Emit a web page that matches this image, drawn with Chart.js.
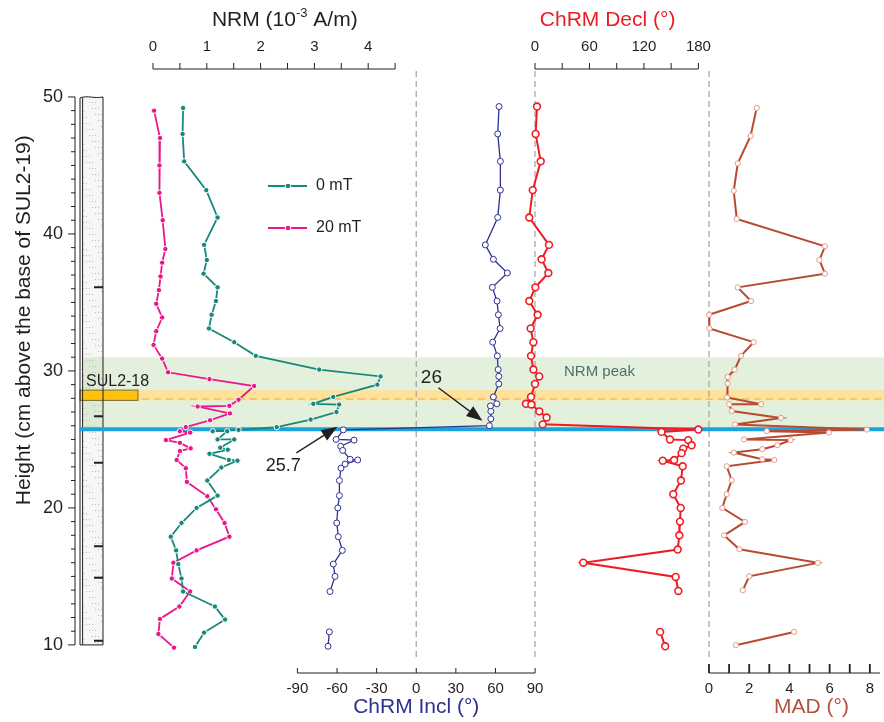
<!DOCTYPE html>
<html>
<head>
<meta charset="utf-8">
<style>
  body { margin: 0; background: #fff; }
  #wrap { position: relative; width: 884px; height: 722px; }
</style>
</head>
<body>
<div id="wrap"><canvas id="chart"></canvas></div>

<script src="https://cdn.jsdelivr.net/npm/chart.js@4.4.1/dist/chart.umd.min.js"></script>
<script>
// NRM, 0 mT and 20 mT (10^-3 A/m) against height (cm)
const nrm0H = [49.2, 47.3, 45.3, 43.2, 41.2, 39.2, 38.1, 37.1, 36.1, 35.1, 34.1, 33.1, 32.1, 31.1, 30.1, 29.6, 29.0, 28.1, 27.6, 27.55, 27.0, 26.45, 25.9, 25.7, 25.6, 25.6, 25.0, 25.0, 24.4, 24.25, 23.95, 23.5, 23.45, 22.95, 22.0, 20.9, 20.0, 18.9, 17.9, 16.9, 15.9, 14.85, 13.9, 12.8, 11.85, 10.9, 9.85]
const nrm0 = [0.56, 0.55, 0.58, 0.99, 1.20, 0.95, 1.00, 0.94, 1.20, 1.17, 1.09, 1.04, 1.51, 1.91, 3.09, 4.23, 4.17, 3.35, 2.98, 3.46, 3.41, 2.93, 2.30, 1.59, 1.11, 1.38, 1.20, 1.51, 1.25, 1.39, 1.05, 1.41, 1.57, 1.27, 1.01, 1.20, 0.81, 0.53, 0.33, 0.43, 0.47, 0.53, 0.56, 1.15, 1.34, 0.95, 0.78]

const nrm20H = [49.0, 47.0, 45.0, 43.0, 41.0, 38.9, 37.9, 36.9, 35.9, 34.9, 33.9, 32.9, 31.9, 30.9, 29.9, 29.4, 28.9, 27.9, 27.45, 27.4, 26.9, 26.4, 25.9, 25.6, 25.5, 24.95, 24.75, 24.35, 24.15, 23.5, 22.9, 21.9, 20.85, 19.9, 18.9, 17.9, 16.9, 16.0, 14.85, 13.9, 12.8, 11.9, 10.8, 9.8]
const nrm20 = [0.02, 0.13, 0.12, 0.12, 0.18, 0.23, 0.17, 0.14, 0.11, 0.06, 0.17, 0.06, 0.01, 0.17, 0.28, 1.05, 1.88, 1.59, 1.42, 0.83, 1.43, 1.06, 0.61, 0.50, 0.69, 0.24, 0.50, 0.70, 0.50, 0.44, 0.61, 0.63, 1.01, 1.17, 1.33, 1.42, 0.81, 0.38, 0.35, 0.69, 0.49, 0.13, 0.10, 0.39]

// ChRM inclination (deg), null = no sample (line break)
const inclH = [49.3, 47.3, 45.3, 43.2, 41.2, 39.2, 38.15, 37.15, 36.1, 35.1, 34.1, 33.1, 32.1, 31.1, 30.1, 29.6, 29.05, 28.1, 27.6, 27.45, 27.05, 26.5, 26.0, 25.7, 25.0, 24.95, 24.5, 24.2, 23.55, 23.5, 23.2, 22.9, 22.0, 20.9, 20.0, 18.9, 17.9, 16.9, 15.9, 15.0, 13.9, 12.4, 10.95, 9.9]
const incl = [62.7, 61.7, 63.7, 63.7, 61.7, 52.3, 58.4, 69.0, 57.6, 61.2, 62.2, 63.5, 57.9, 61.4, 62.0, 62.5, 62.5, 58.4, 61.0, 56.2, 56.5, 56.5, 55.4, -55.2, -60.7, -47.1, -57.2, -55.7, -50.1, -44.3, -53.9, -57.0, -58.2, -58.2, -59.4, -60.2, -59.0, -56.0, -62.8, -61.5, -65.3, null, -65.8, -66.8]

// ChRM declination (deg)
const declH = [49.3, 47.3, 45.3, 43.2, 41.2, 39.2, 38.15, 37.15, 36.1, 35.1, 34.1, 33.1, 32.1, 31.1, 30.1, 29.6, 29.05, 28.1, 27.6, 27.55, 27.05, 26.6, 26.1, 25.72, 25.55, 25.0, 24.95, 24.57, 24.33, 24.0, 23.5, 23.45, 23.04, 22.0, 21.0, 20.0, 19.0, 18.0, 16.96, 16.0, 14.96, 13.94, 12.4, 10.95, 9.9]
const decl = [2.2, 0.7, 6.3, -2.5, -6.3, 15.4, 7.3, 14.7, 0.4, -6.3, 2.9, -4.8, -1.8, -4.4, -1.8, 4.7, 0.0, -4.4, -10.0, -4.0, 4.7, 12.8, 8.5, 179.9, 139.4, 148.7, 168.8, 172.6, 163.3, 161.5, 153.3, 140.7, 162.7, 160.8, 152.3, 160.5, 159.7, 159.0, 157.2, 53.2, 155.0, 157.9, null, 137.9, 143.4]

// MAD (deg)
const madH = [49.2, 47.15, 45.15, 43.15, 41.1, 39.1, 38.1, 37.1, 36.1, 35.1, 34.1, 33.1, 32.1, 31.1, 30.1, 29.56, 29.08, 28.06, 27.57, 27.57, 27.07, 26.57, 26.09, 25.72, 25.6, 25.5, 25.0, 24.95, 24.58, 24.29, 24.04, 23.56, 23.5, 23.04, 22.02, 21.0, 20.0, 18.98, 18.0, 16.98, 15.99, 15.01, 13.99, 12.4, 10.95, 9.98]
const mad = [2.37, 2.07, 1.43, 1.23, 1.38, 5.77, 5.49, 5.77, 1.43, 2.09, 0.0, 0.02, 2.22, 1.59, 1.28, 0.93, 0.93, 0.90, 2.59, 1.00, 1.13, 3.58, 1.29, 7.85, 2.87, 5.97, 1.74, 4.06, 3.40, 2.65, 1.23, 2.65, 3.25, 0.88, 1.13, 0.88, 0.66, 1.79, 0.75, 1.51, 5.41, 2.00, 1.68, null, 4.23, 1.33]

// levels marked on the log, bands and labels
const colMarks = [36.1, 26.7, 23.3, 17.2, 14.9, 10.3]
const peakBand = [25.75, 31.0]
const sampleBand = [27.85, 28.6]
const sampleLine = 27.95
const boundary = 25.75
const yTicks = [10, 20, 30, 40, 50]
const nrmTicks = [0, 1, 2, 3, 4]
const declTicks = [0, 60, 120, 180]
const inclTicks = [-90, -60, -30, 0, 30, 60, 90]
const madTicks = [0, 2, 4, 6, 8]

const FONT = "'Liberation Sans', Arial, sans-serif"
const INK = '#231f20'
const TEAL = '#17897b', PINK = '#ea168b', NAVY = '#2e3192', RED = '#ed1c24', MADC = '#b84a30'
const TOP_H = 69, BOT_H = 49

function pts(hs, vs) {
  return hs.map((h, i) => ({ x: vs[i], y: h }))
}

function fixH(h) {
  return s => { s.height = h; s.paddingLeft = 0; s.paddingRight = 0 }
}

// invisible spacer scales share the row with the real axes
function gap(pos, w, weight) {
  return { type: 'linear', axis: 'x', position: pos, stack: pos, stackWeight: w, weight, display: false, min: 0, max: 1,
    afterFit: fixH(pos === 'top' ? TOP_H : BOT_H) }
}

function axis(pos, w, weight, min, max, step, shown, fsize, pad) {
  return {
    type: 'linear', axis: 'x', position: pos, stack: pos, stackWeight: w, weight,
    min, max,
    grid: { display: false, drawTicks: false }, border: { display: false },
    ticks: {
      stepSize: step, autoSkip: false, includeBounds: false, maxRotation: 0, minRotation: 0, maxTicksLimit: 100,
      padding: pad, color: INK, font: { family: FONT, size: fsize },
      callback: v => shown.includes(v) ? String(v) : ''
    },
    afterFit: fixH(pos === 'top' ? TOP_H : BOT_H)
  }
}

function text(ctx, s, x, y, size, color, align) {
  ctx.font = size + 'px ' + FONT
  ctx.fillStyle = color
  ctx.textAlign = align || 'center'
  ctx.textBaseline = 'middle'
  ctx.fillText(s, x, y)
}

function arrow(ctx, x0, y0, x1, y1) {
  const a = Math.atan2(y1 - y0, x1 - x0), L = 16, W = 6
  const bx = x1 - L * Math.cos(a), by = y1 - L * Math.sin(a)
  ctx.strokeStyle = INK
  ctx.fillStyle = INK
  ctx.lineWidth = 1.3
  ctx.beginPath(); ctx.moveTo(x0, y0); ctx.lineTo(bx, by); ctx.stroke()
  ctx.beginPath()
  ctx.moveTo(x1, y1)
  ctx.lineTo(bx - W * Math.sin(a), by + W * Math.cos(a))
  ctx.lineTo(bx + W * Math.sin(a), by - W * Math.cos(a))
  ctx.closePath(); ctx.fill()
}

const decor = {
  id: 'decor',
  beforeDatasetsDraw(chart) {
    const { ctx, chartArea: a, scales: s } = chart
    const Y = v => s.y.getPixelForValue(v)
    const colL = a.left + 3, colR = a.left + 26, barR = a.left + 61
    ctx.save()

    // log column
    ctx.fillStyle = '#f6f6f6'
    ctx.fillRect(colL, Y(50), colR - colL, Y(10) - Y(50))
    ctx.fillStyle = '#a9a9a9'
    for (let yy = Math.round(Y(50)) + 2; yy < Y(10); yy += 3) {
      for (let xx = colL + 3; xx < colR - 1; xx += 3) {
        if ((xx * 7 + yy * 13) % 11 < 3) ctx.fillRect(xx, yy, 0.9, 0.9)
      }
    }

    // NRM peak band
    ctx.fillStyle = 'rgba(170,210,150,0.33)'
    ctx.fillRect(colL + 2, Y(peakBand[1]), a.right - colL - 2, Y(peakBand[0]) - Y(peakBand[1]))
    // sample SUL2-18
    ctx.fillStyle = '#fde29c'
    ctx.fillRect(barR, Y(sampleBand[1]), a.right - barR, Y(sampleBand[0]) - Y(sampleBand[1]))
    ctx.fillStyle = '#ffc20e'
    ctx.fillRect(colL, Y(sampleBand[1]), barR - colL, Y(sampleBand[0]) - Y(sampleBand[1]))
    ctx.strokeStyle = '#7d6a2e'
    ctx.lineWidth = 1
    ctx.strokeRect(colL, Y(sampleBand[1]), barR - colL, Y(sampleBand[0]) - Y(sampleBand[1]))
    ctx.strokeStyle = '#f2a444'
    ctx.lineWidth = 1.2
    ctx.setLineDash([7, 5])
    ctx.beginPath(); ctx.moveTo(barR + 4, Y(sampleLine)); ctx.lineTo(a.right, Y(sampleLine)); ctx.stroke()

    // column outline and marks
    ctx.setLineDash([])
    ctx.strokeStyle = INK
    ctx.lineWidth = 1
    ctx.beginPath()
    ctx.moveTo(colL, Y(10)); ctx.lineTo(colL, Y(50) + 1)
    ctx.bezierCurveTo(colL + 8, Y(50) - 2, colL + 14, Y(50) + 2, colR, Y(50))
    ctx.lineTo(colR, Y(10)); ctx.closePath()
    ctx.moveTo(colL + 2.6, Y(10)); ctx.lineTo(colL + 2.6, Y(50) + 1)
    ctx.stroke()
    ctx.lineWidth = 2
    ctx.beginPath()
    colMarks.forEach(h => { ctx.moveTo(colR - 9, Y(h)); ctx.lineTo(colR, Y(h)) })
    ctx.stroke()
    text(ctx, 'SUL2-18', colL + 6, Y(29.25), 16, INK, 'left')

    // boundary 25.7
    ctx.strokeStyle = '#1aa3dd'
    ctx.lineWidth = 4
    ctx.beginPath(); ctx.moveTo(colL, Y(boundary)); ctx.lineTo(a.right, Y(boundary)); ctx.stroke()

    // zero lines
    ctx.strokeStyle = '#a3a3a3'
    ctx.lineWidth = 1.2
    ctx.setLineDash([6, 4])
    ;[s.xIncl.getPixelForValue(0), s.xDecl.getPixelForValue(0), s.xMAD.getPixelForValue(0)].forEach(x => {
      ctx.beginPath(); ctx.moveTo(x, a.top + 2); ctx.lineTo(x, a.bottom - 13); ctx.stroke()
    })
    ctx.setLineDash([])

    text(ctx, 'NRM peak', s.xDecl.getPixelForValue(71), Y(29.95), 15, '#4d7070')
    ctx.restore()
  },

  afterDraw(chart) {
    const { ctx, chartArea: a, scales: s } = chart
    const Y = v => s.y.getPixelForValue(v)
    ctx.save()
    ctx.strokeStyle = INK

    // y axis
    const yx = a.left - 2
    ctx.lineWidth = 1
    ctx.beginPath()
    ctx.moveTo(yx, Y(10)); ctx.lineTo(yx, Y(50))
    for (let h = 10; h <= 50; h++) {
      ctx.moveTo(yx, Y(h)); ctx.lineTo(yx - (h % 10 === 0 ? 7 : 4), Y(h))
    }
    ctx.stroke()

    // x axes
    function xAxis(sc, y, from, to, dir, len, lw) {
      ctx.lineWidth = 1
      ctx.beginPath()
      ctx.moveTo(sc.getPixelForValue(from), y); ctx.lineTo(sc.getPixelForValue(to), y)
      ctx.stroke()
      ctx.lineWidth = lw
      ctx.beginPath()
      sc.ticks.forEach(t => {
        const x = sc.getPixelForValue(t.value)
        ctx.moveTo(x, y); ctx.lineTo(x, y + dir * len)
      })
      ctx.stroke()
    }
    xAxis(s.xNRM, a.top, 0, 4.5, -1, 6, 1)
    xAxis(s.xDecl, a.top, 0, 180, -1, 6, 1)
    xAxis(s.xIncl, a.bottom, -90, 90, -1, 5, 1)
    xAxis(s.xMAD, a.bottom, 0, 8.5, -1, 9, 1.8)

    // axis titles
    const tx = s.xNRM.getPixelForValue(2.45), ty = 20
    ctx.font = '21px ' + FONT
    const p1 = 'NRM (10', p3 = ' A/m)'
    const w1 = ctx.measureText(p1).width, w3 = ctx.measureText(p3).width
    ctx.font = '13px ' + FONT
    const w2 = ctx.measureText('-3').width
    let x0 = tx - (w1 + w2 + w3) / 2
    text(ctx, p1, x0, ty, 21, INK, 'left')
    text(ctx, '-3', x0 + w1, ty - 7, 13, INK, 'left')
    text(ctx, p3, x0 + w1 + w2, ty, 21, INK, 'left')
    text(ctx, 'ChRM Decl (°)', s.xDecl.getPixelForValue(80), ty, 21, RED)
    text(ctx, 'ChRM Incl (°)', s.xIncl.getPixelForValue(0), 707, 21, NAVY)
    text(ctx, 'MAD (°)', s.xMAD.getPixelForValue(5.1), 707, 21, '#b5533c')
    ctx.save()
    ctx.translate(24, Y(33.7))
    ctx.rotate(-Math.PI / 2)
    text(ctx, 'Height (cm above the base of SUL2-19)', 0, 0, 21, INK)
    ctx.restore()

    // legend for the NRM curves
    ;[0, 1].forEach(i => {
      const ds = chart.data.datasets[i]
      const ly = 186 + i * 42
      ctx.strokeStyle = ds.borderColor
      ctx.lineWidth = 2
      ctx.beginPath(); ctx.moveTo(268, ly); ctx.lineTo(307, ly); ctx.stroke()
      ctx.fillStyle = ds.borderColor
      ctx.strokeStyle = '#fff'
      ctx.lineWidth = 1
      ctx.beginPath(); ctx.arc(288, ly, 2.8, 0, Math.PI * 2); ctx.fill(); ctx.stroke()
      text(ctx, ds.label, 316, ly, 16, INK, 'left')
    })

    // arrows to the reversal
    const p26 = { x: s.xIncl.getPixelForValue(55.4), y: Y(26.0) }
    text(ctx, '26', p26.x - 58, p26.y - 48, 19, INK)
    arrow(ctx, p26.x - 51, p26.y - 38, p26.x - 7, p26.y - 5)
    const p257 = { x: s.xIncl.getPixelForValue(-55.2), y: Y(25.7) }
    text(ctx, '25.7', p257.x - 60, p257.y + 36, 18, INK)
    arrow(ctx, p257.x - 47, p257.y + 23, p257.x - 6, p257.y - 3)
    ctx.restore()
  }
}

const ctx = document.getElementById('chart').getContext('2d')
new Chart(ctx, {
  type: 'scatter',
  data: {
    datasets: [
      { label: '0 mT', xAxisID: 'xNRM', data: pts(nrm0H, nrm0), borderColor: TEAL, borderWidth: 1.8,
        pointBackgroundColor: TEAL, pointBorderColor: '#fff', pointBorderWidth: 1, pointRadius: 2.7 },
      { label: '20 mT', xAxisID: 'xNRM', data: pts(nrm20H, nrm20), borderColor: PINK, borderWidth: 1.8,
        pointBackgroundColor: PINK, pointBorderColor: '#fff', pointBorderWidth: 1, pointRadius: 2.7 },
      { label: 'ChRM Incl', xAxisID: 'xIncl', data: pts(inclH, incl), borderColor: NAVY, borderWidth: 1.3,
        pointBackgroundColor: '#fff', pointBorderColor: NAVY, pointBorderWidth: 1, pointRadius: 3 },
      { label: 'ChRM Decl', xAxisID: 'xDecl', data: pts(declH, decl), borderColor: RED, borderWidth: 2,
        pointBackgroundColor: '#fff', pointBorderColor: RED, pointBorderWidth: 1.6, pointRadius: 3.4 },
      { label: 'MAD', xAxisID: 'xMAD', data: pts(madH, mad), borderColor: MADC, borderWidth: 2,
        pointBackgroundColor: '#fff', pointBorderColor: '#e49a8a', pointBorderWidth: 1, pointRadius: 2.6 }
    ].map(d => Object.assign(d, { yAxisID: 'y', showLine: true, spanGaps: false, tension: 0, clip: false }))
  },
  options: {
    responsive: true,
    maintainAspectRatio: false,
    animation: false,
    layout: { padding: 0, autoPadding: false },
    plugins: { legend: { display: false }, tooltip: { enabled: false } },
    scales: {
      y: {
        type: 'linear', position: 'left', min: 7.95, max: 52.04,
        grid: { display: false, drawTicks: false }, border: { display: false },
        ticks: {
          stepSize: 1, autoSkip: false, includeBounds: false, maxTicksLimit: 100, padding: 14,
          color: INK, font: { family: FONT, size: 18 },
          callback: v => yTicks.includes(v) ? String(v) : ''
        },
        afterFit: s => { s.width = 77; s.paddingTop = 0; s.paddingBottom = 0 }
      },
      // top row, left to right: gap, NRM, gap, Decl, gap
      gapT1: gap('top', 76, 5),
      xNRM: axis('top', 242.1, 4, 0, 4.5, 0.5, nrmTicks, 15, 13),
      gapT2: gap('top', 139.9, 3),
      xDecl: axis('top', 163.4, 2, 0, 180, 30, declTicks, 15, 13),
      gapT3: gap('top', 185.6, 1),
      // bottom row, left to right: gap, Incl, gap, MAD, gap
      gapB1: gap('bottom', 220.4, 1),
      xIncl: axis('bottom', 237.7, 2, -90, 90, 30, inclTicks, 15, 7),
      gapB2: gap('bottom', 173.9, 3),
      xMAD: axis('bottom', 170.9, 4, 0, 8.5, 1, madTicks, 15, 7),
      gapB3: gap('bottom', 4.1, 5)
    }
  },
  plugins: [decor]
})
</script>
</body>
</html>
